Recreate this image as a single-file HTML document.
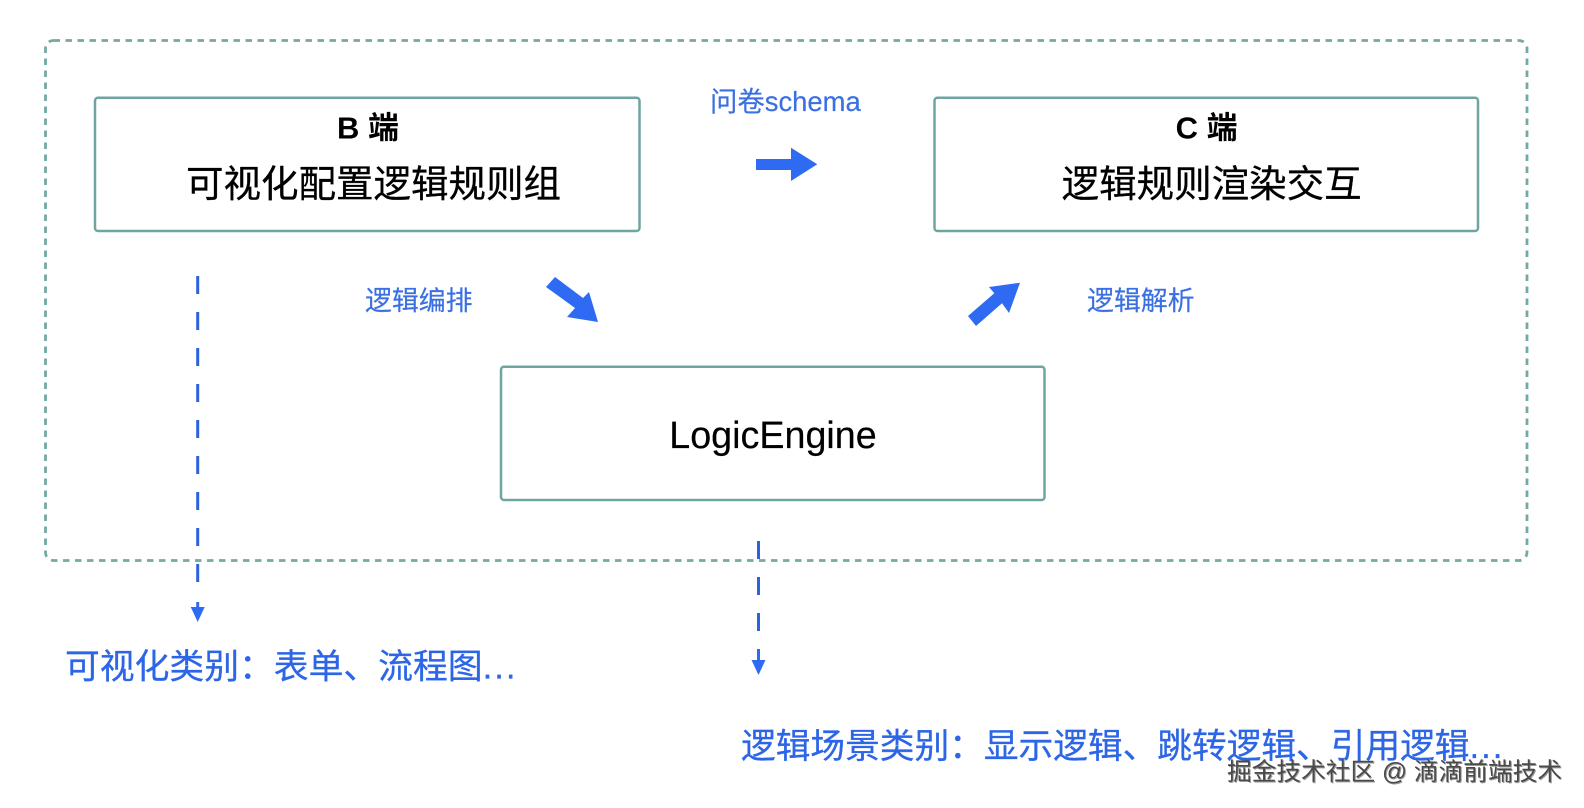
<!DOCTYPE html>
<html><head><meta charset="utf-8"><style>
html,body{margin:0;padding:0;background:#fff;width:1584px;height:808px;overflow:hidden}
svg{display:block}
text{font-family:"Liberation Sans","Noto Sans CJK SC",sans-serif}
</style></head><body>
<svg width="1584" height="808" viewBox="0 0 1584 808" xmlns="http://www.w3.org/2000/svg">
<rect x="45.500" y="40.500" width="1481.500" height="520" rx="8" fill="none" stroke="#74aaa2" stroke-width="2.800" stroke-dasharray="6.500 5.500"/>
<g fill="#fff" stroke="#6fa5a1" stroke-width="2.500">
<rect x="95" y="97.700" width="544.500" height="133.300" rx="3"/>
<rect x="934.500" y="97.700" width="543.500" height="133.300" rx="3"/>
<rect x="501" y="366.700" width="543.500" height="133.300" rx="3"/>
</g>
<g fill="#000" text-anchor="middle">
<text x="368" y="138.500" font-size="31" font-weight="700">B 端</text>
<text x="373.500" y="197" font-size="37.500" stroke="#000" stroke-width="0.3">可视化配置逻辑规则组</text>
<text x="1206.600" y="138.500" font-size="31" font-weight="700">C 端</text>
<text x="1211.600" y="197" font-size="37.500" stroke="#000" stroke-width="0.3">逻辑规则渲染交互</text>
<text x="773" y="448" font-size="37.700" stroke="#000" stroke-width="0.2">LogicEngine</text>
</g>
<g fill="#3a70e2" stroke="#3a70e2" stroke-width="0.2">
<text x="710" y="111" font-size="27.400">问卷schema</text>
<text x="365" y="310" font-size="26.900">逻辑编排</text>
<text x="1087" y="310" font-size="26.900">逻辑解析</text>
</g>
<g fill="#2c66e6" stroke="#2c66e6" stroke-width="0.3">
<text x="65" y="678.500" font-size="34.800">可视化类别：表单、流程图<tspan letter-spacing="2">...</tspan></text>
<text x="741" y="758" font-size="34.700">逻辑场景类别：显示逻辑、跳转逻辑、引用逻辑<tspan letter-spacing="2">...</tspan></text>
</g>
<g fill="#2f6bf2">
<polygon points="756,159 791,159 791,147.700 817.300,164.300 791,181 791,170 756,170"/>
<polygon points="555,277 583,298 589,292 598,322 567,317 575,308 546,287"/>
<polygon points="968,316 994.300,293.300 989,287 1020,282.700 1009,313 1002,303.300 976,326"/>
<polygon points="196.200,602 199.200,602 199.200,607 204.700,607 197.700,622 190.700,607 196.200,607"/>
<polygon points="757,649 760,649 760,660 765.500,660 758.500,675 751.500,660 757,660"/>
</g>
<g stroke="#2c62de" stroke-width="3" fill="none">
<line x1="197.700" y1="276" x2="197.700" y2="584" stroke-dasharray="18 18"/>
<line x1="758.500" y1="541" x2="758.500" y2="632" stroke-dasharray="18 18"/>
</g>
<text x="1228" y="781" font-size="24.700" fill="#9a9a9a" stroke="#fff" stroke-width="1.200" paint-order="stroke">掘金技术社区 @ 滴滴前端技术</text>
<text x="1227" y="780" font-size="24.700" fill="#4a4a4a">掘金技术社区 @ 滴滴前端技术</text>
</svg>
</body></html>
